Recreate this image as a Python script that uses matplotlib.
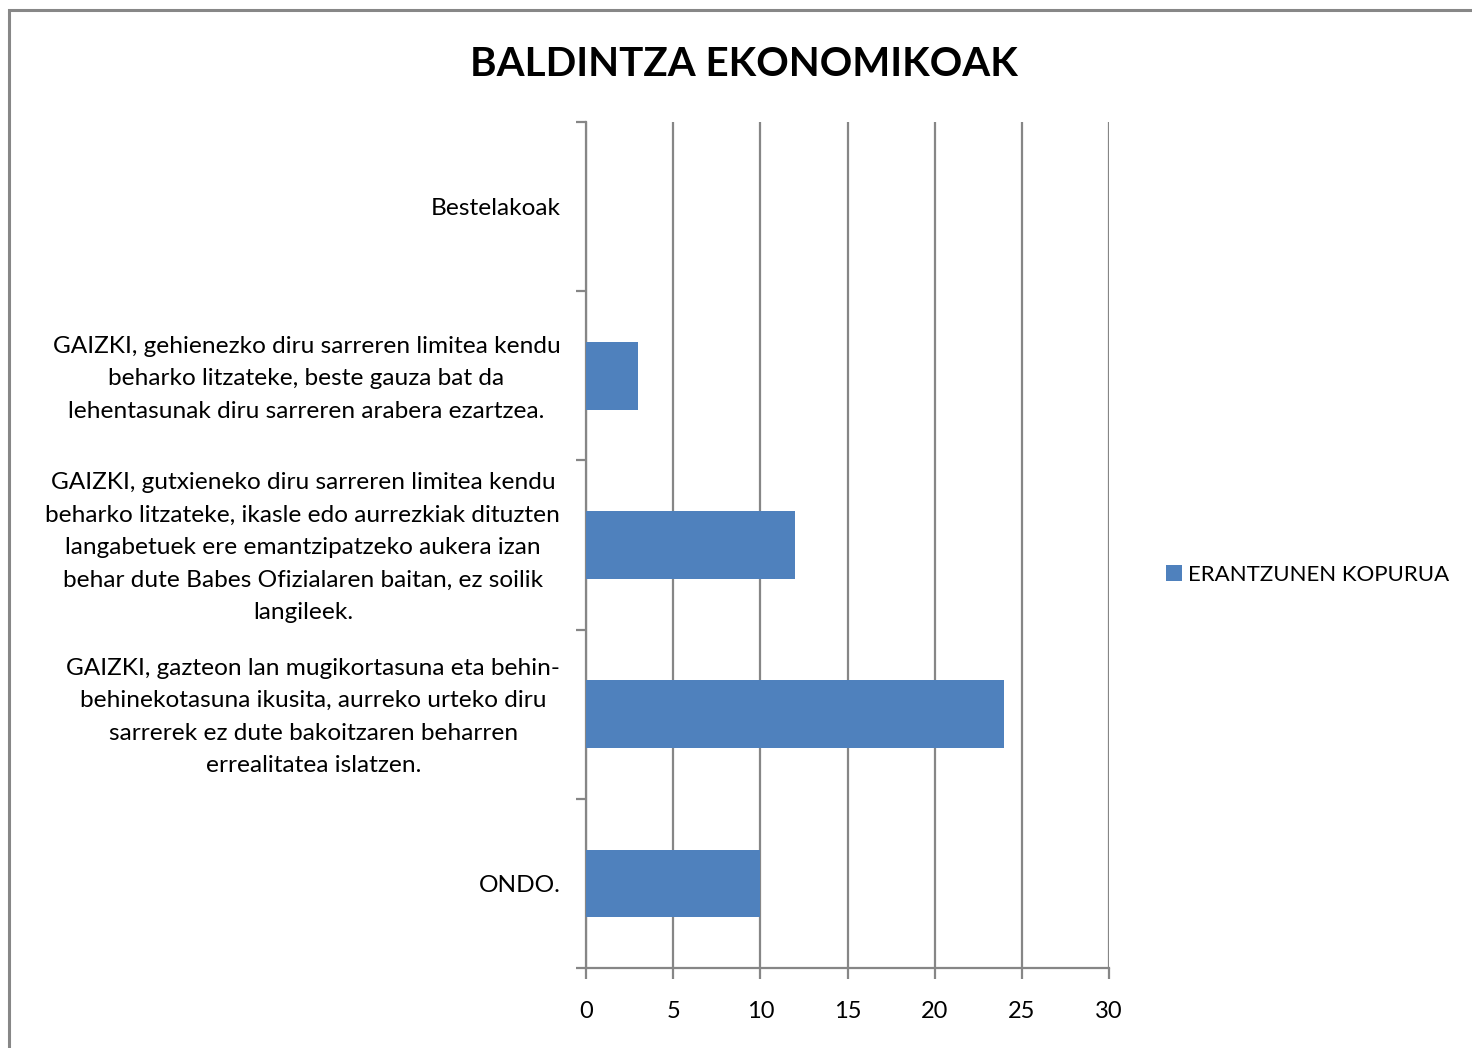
import matplotlib
matplotlib.use('Agg')
import matplotlib.pyplot as plt
from matplotlib.patches import Rectangle
from matplotlib.transforms import ScaledTranslation

# data
categories = [
    'ONDO.',
    'GAIZKI, gazteon lan mugikortasuna eta behin-\nbehinekotasuna ikusita, aurreko urteko diru\nsarrerek ez dute bakoitzaren beharren\nerrealitatea islatzen.',
    'GAIZKI, gutxieneko diru sarreren limitea kendu\nbeharko litzateke, ikasle edo aurrezkiak dituzten\nlangabetuek ere emantzipatzeko aukera izan\nbehar dute Babes Ofizialaren baitan, ez soilik\nlangileek.',
    'GAIZKI, gehienezko diru sarreren limitea kendu\nbeharko litzateke, beste gauza bat da\nlehentasunak diru sarreren arabera ezartzea.',
    'Bestelakoak',
]
values = [10, 24, 12, 3, 0]
series_name = 'ERANTZUNEN KOPURUA'
title = 'BALDINTZA EKONOMIKOAK'
xticks = [0, 5, 10, 15, 20, 25, 30]

plt.rcParams['font.family'] = ['Lato', 'DejaVu Sans']
grey = '#868686'
blue = '#4F81BD'

fig = plt.figure(figsize=(14.72, 10.48), dpi=100)
ax = fig.add_axes([586/1472, 1-968/1048, (1109-586)/1472, (968-122)/1048])

y = list(range(len(categories)))
ax.barh(y, values, height=0.4, color=blue, label=series_name, zorder=3)

ax.set_xlim(0, 30)
ax.set_ylim(-0.5, len(categories) - 0.5)
ax.set_xticks(xticks)
ax.set_xticklabels([str(t) for t in xticks], fontsize=17)
ax.grid(axis='x', color=grey, linewidth=1.6, zorder=0)
ax.tick_params(axis='x', length=8, width=1.6, color=grey, pad=16)

ax.set_yticks(y)
ax.set_yticklabels(categories, fontsize=17.6, ha='right', multialignment='center', linespacing=1.68)
ax.tick_params(axis='y', which='major', length=0, pad=18.5)
ax.set_yticks([i - 0.5 for i in range(len(categories) + 1)], minor=True)
ax.tick_params(axis='y', which='minor', length=7, width=1.6, color=grey)

# multi-line labels sit a little high in the original
for lbl, txt in zip(ax.get_yticklabels(), categories):
    if '\n' in txt:
        lbl.set_transform(lbl.get_transform() + ScaledTranslation(0, 5/100, fig.dpi_scale_trans))

for s in ['top', 'right']:
    ax.spines[s].set_visible(False)
for s in ['left', 'bottom']:
    ax.spines[s].set_color(grey)
    ax.spines[s].set_linewidth(1.6)

fig.text(744/1472, 1-64/1048, title, fontsize=29, fontweight='bold', ha='center', va='center')

fig.legend(loc='center left', bbox_to_anchor=(1166/1472, 1-575/1048), frameon=False, borderpad=0,
           borderaxespad=0, fontsize=16, handlelength=0.7, handleheight=0.7, handletextpad=0.3)

fig.patches.append(Rectangle((9/1472, -0.1), 1.2, 1.1 - 10/1048, transform=fig.transFigure,
                             fill=False, edgecolor='#878787', linewidth=2.2))

fig.savefig('out.png', dpi=100)
